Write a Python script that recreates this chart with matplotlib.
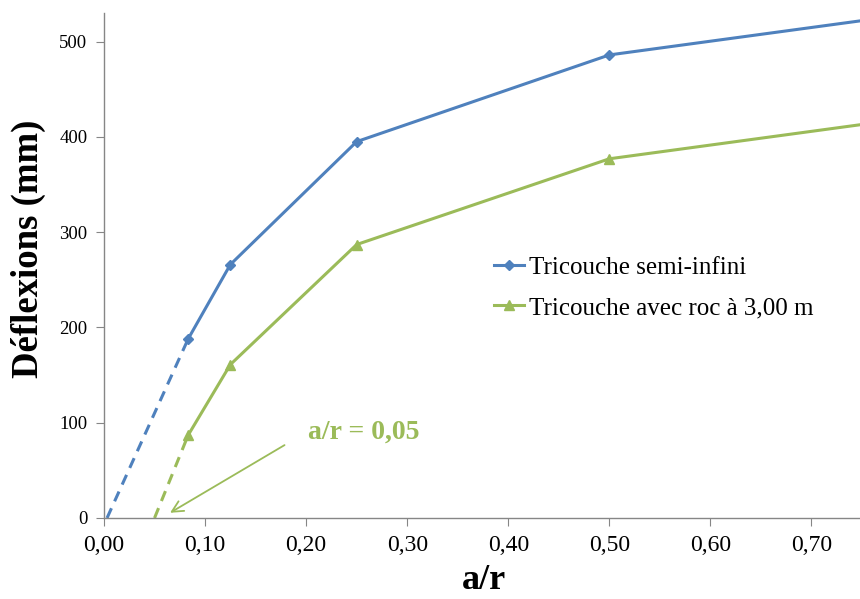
import matplotlib
matplotlib.use("Agg")
import matplotlib.pyplot as plt

# Data
x_vals = [0.0833, 0.125, 0.25, 0.5, 0.75]
semi_infini = [188, 266, 395, 486, 522]
avec_roc = [87, 161, 287, 377, 413]
# dashed extrapolations to zero deflection
semi_ext_x = [0.003, 0.0833]
semi_ext_y = [0, 188]
roc_ext_x = [0.05, 0.0833]
roc_ext_y = [0, 87]
x_ticks = [0.0, 0.1, 0.2, 0.3, 0.4, 0.5, 0.6, 0.7]
x_ticklabels = ["0,00", "0,10", "0,20", "0,30", "0,40", "0,50", "0,60", "0,70"]
y_ticks = [0, 100, 200, 300, 400, 500]

BLUE = "#4F81BD"
GREEN = "#9BBB59"
GRAY = "#868686"

plt.rcParams['font.family'] = ['Liberation Serif', 'DejaVu Serif']

fig = plt.figure(figsize=(8.6, 5.99), dpi=100)
ax = fig.add_axes([104/860, 81/599, 1 - 104/860, (518-13)/599])

ax.plot(x_vals, semi_infini, color=BLUE, lw=2.2, marker='D', ms=5.5,
        markevery=[0, 1, 2, 3], label="Tricouche semi-infini", clip_on=True)
ax.plot(x_vals, avec_roc, color=GREEN, lw=2.2, marker='^', ms=7,
        markevery=[0, 1, 2, 3], label="Tricouche avec roc à 3,00 m", clip_on=True)
ax.plot(semi_ext_x, semi_ext_y, color=BLUE, lw=2.2, ls=(0, (3.5, 2.5)))
ax.plot(roc_ext_x, roc_ext_y, color=GREEN, lw=2.2, ls=(0, (3.5, 2.5)))

ax.annotate("", xy=(0.063, 4), xytext=(0.181, 78),
            arrowprops=dict(arrowstyle="->", color=GREEN, lw=1.3,
                            mutation_scale=20))
ax.text(0.202, 90, "a/r = 0,05", color=GREEN, fontsize=20, fontweight='bold',
        va='center', ha='left')

ax.set_xlim(0, 0.748)
ax.set_ylim(0, 530)
ax.set_xticks(x_ticks)
ax.set_xticklabels(x_ticklabels)
ax.set_yticks(y_ticks)

for s in ['top', 'right']:
    ax.spines[s].set_visible(False)
for s in ['left', 'bottom']:
    ax.spines[s].set_color(GRAY)
    ax.spines[s].set_linewidth(1.0)

ax.tick_params(axis='x', length=6, color=GRAY, labelsize=17, pad=6, direction='out')
ax.tick_params(axis='y', length=6, color=GRAY, labelsize=13.5, pad=6, direction='out')

ax.set_xlabel("a/r", fontsize=26, fontweight='bold')
ax.xaxis.set_label_coords((484 - 104) / 756, -(564 - 518) / 505)
ax.set_ylabel("Déflexions (mm)", fontsize=26.5, fontweight='bold')
ax.yaxis.set_label_coords((46 - 104) / 756, (518 - 249) / 505)

leg = ax.legend(loc='upper left', bbox_to_anchor=(494/860, 1 - 256/599),
                bbox_transform=fig.transFigure, frameon=False, fontsize=18,
                handlelength=1.2, handletextpad=0.2, labelspacing=0.72,
                borderaxespad=0, borderpad=0)

fig.savefig("out.png", dpi=100)
